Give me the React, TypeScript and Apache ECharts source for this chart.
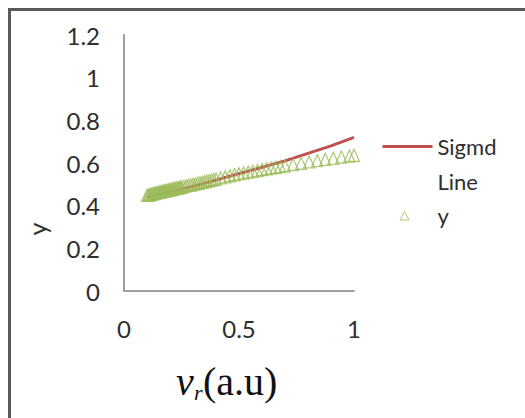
import React, { useEffect, useRef } from "react";
import * as echarts from "echarts";

const lineX = [0.1, 0.2, 0.3, 0.4, 0.5, 0.6, 0.7, 0.8, 0.9, 1.0];
const lineY = [0.44, 0.465, 0.49, 0.52, 0.55, 0.58, 0.61, 0.645, 0.68, 0.72];

const triX = [
  0.1, 0.105, 0.11, 0.115, 0.12, 0.125, 0.13, 0.135, 0.14, 0.145, 0.15, 0.155, 0.16, 0.165, 0.17, 0.175,
  0.18, 0.185, 0.19, 0.195, 0.2, 0.205, 0.21, 0.215, 0.22, 0.225, 0.23, 0.235, 0.24, 0.245, 0.25,
  0.26, 0.27, 0.28, 0.29, 0.3, 0.31, 0.32, 0.33, 0.34, 0.35, 0.36, 0.37, 0.38, 0.39, 0.4,
  0.42, 0.44, 0.46, 0.48, 0.5, 0.52, 0.54, 0.56, 0.58, 0.6, 0.62, 0.64, 0.66, 0.68, 0.7,
  0.735, 0.77, 0.805, 0.84, 0.875, 0.91, 0.945, 0.98, 1.0,
];
const triY = [
  0.448, 0.449, 0.451, 0.452, 0.454, 0.455, 0.457, 0.458, 0.46, 0.461, 0.462, 0.464, 0.465, 0.466, 0.468, 0.469,
  0.47, 0.471, 0.472, 0.474, 0.475, 0.476, 0.478, 0.479, 0.48, 0.481, 0.483, 0.484, 0.485, 0.486, 0.487,
  0.49, 0.493, 0.495, 0.497, 0.5, 0.502, 0.505, 0.507, 0.51, 0.512, 0.515, 0.517, 0.52, 0.522, 0.525,
  0.53, 0.535, 0.54, 0.545, 0.549, 0.553, 0.557, 0.561, 0.565, 0.569, 0.573, 0.576, 0.58, 0.583, 0.587,
  0.593, 0.599, 0.605, 0.611, 0.617, 0.622, 0.628, 0.633, 0.636,
];

const yTicks = { min: 0, max: 1.2, interval: 0.2 };
const xTicks = { min: 0, max: 1, interval: 0.5 };

const LINE_NAME = "Sigmd Line";
const TRI_NAME = "y";
const X_NAME_VAR = "v";
const X_NAME_SUB = "r";
const X_NAME_UNIT = "(a.u)";
const Y_NAME = "y";

export default function App() {
  const ref = useRef<HTMLDivElement>(null);
  useEffect(() => {
    if (!ref.current) return;
    const chart = echarts.init(ref.current, null, { renderer: "svg" });
    const font = "Lato";
    const serif = "Liberation Serif";
    const txt = "#2e2e2e";
    chart.setOption({
      animation: false,
      backgroundColor: "#ffffff",
      grid: { left: 124, right: 171, top: 35, bottom: 127, containLabel: false },
      xAxis: {
        type: "value",
        min: xTicks.min,
        max: xTicks.max,
        interval: xTicks.interval,
        splitLine: { show: false },
        axisTick: { show: false },
        axisLine: { show: true, lineStyle: { color: "#a0a0a0", width: 2 } },
        axisLabel: {
          margin: 25,
          fontSize: 24,
          fontFamily: font,
          color: txt,
          formatter: (v: number) => String(Math.round(v * 10) / 10),
        },
      },
      yAxis: {
        type: "value",
        min: yTicks.min,
        max: yTicks.max,
        interval: yTicks.interval,
        splitLine: { show: false },
        axisTick: { show: false },
        axisLine: { show: true, lineStyle: { color: "#a0a0a0", width: 2 } },
        axisLabel: {
          margin: 24,
          fontSize: 24,
          fontFamily: font,
          color: txt,
          formatter: (v: number) => String(Math.round(v * 10) / 10),
        },
      },
      legend: {
        orient: "vertical",
        left: 382,
        top: 94,
        padding: 0,
        itemGap: -1,
        itemWidth: 50,
        itemHeight: 12,
        symbolKeepAspect: false,
        textStyle: { fontFamily: font, fontSize: 22, color: txt, lineHeight: 35 },
        data: [
          {
            name: LINE_NAME,
            icon: "path://M0,0 M50,12 M0,4.5 L50,4.5 L50,7.5 L0,7.5 Z",
            itemStyle: { color: "#C0504D", borderWidth: 0 },
          },
          {
            name: TRI_NAME,
            icon: "path://M0,0 M50,12 M17.5,10.5 L22,2 L26.5,10.5 Z",
            itemStyle: { color: "rgba(255,255,255,0)", borderColor: "#9BBB59", borderWidth: 1 },
          },
        ],
        formatter: (name: string) => (name === LINE_NAME ? " \nSigmd\nLine" : name),
      },
      graphic: [
        {
          type: "polyline",
          shape: { points: [[9.5, 600], [9.5, 9.5], [600, 9.5]] },
          style: { fill: "none", stroke: "#5a5a5a", lineWidth: 3 },
          silent: true,
        },
        {
          type: "text",
          x: 37,
          y: 229,
          rotation: Math.PI / 2,
          style: {
            text: Y_NAME,
            fontFamily: font,
            fontSize: 25,
            fill: txt,
            align: "center",
            verticalAlign: "middle",
          },
        },
        {
          type: "text",
          x: 176,
          y: 381,
          style: {
            text: X_NAME_VAR,
            fontFamily: serif,
            fontStyle: "italic",
            fontSize: 40,
            fill: "#111",
            align: "left",
            verticalAlign: "middle",
          },
        },
        {
          type: "text",
          x: 194,
          y: 392,
          style: {
            text: X_NAME_SUB,
            fontFamily: serif,
            fontStyle: "italic",
            fontSize: 22,
            fill: "#111",
            align: "left",
            verticalAlign: "middle",
          },
        },
        {
          type: "text",
          x: 203,
          y: 381,
          style: {
            text: X_NAME_UNIT,
            fontFamily: serif,
            fontSize: 40,
            fill: "#111",
            align: "left",
            verticalAlign: "middle",
          },
        },
      ],
      series: [
        {
          name: LINE_NAME,
          type: "line",
          data: lineX.map((x, i) => [x, lineY[i]]),
          showSymbol: false,
          symbol: "none",
          lineStyle: { color: "#C0504D", width: 3 },
          itemStyle: { color: "#C0504D" },
          z: 2,
        },
        {
          name: TRI_NAME,
          type: "scatter",
          data: triX.map((x, i) => [x, triY[i]]),
          symbol: "triangle",
          symbolSize: [11, 12],
          itemStyle: { color: "rgba(255,255,255,0)", borderColor: "#9BBB59", borderWidth: 1.3 },
          z: 3,
        },
      ],
    });
    return () => chart.dispose();
  }, []);
  return (
    <div
      ref={ref}
      style={{ position: "fixed", left: 0, top: 0, width: 525, height: 418, background: "#fff" }}
    />
  );
}
